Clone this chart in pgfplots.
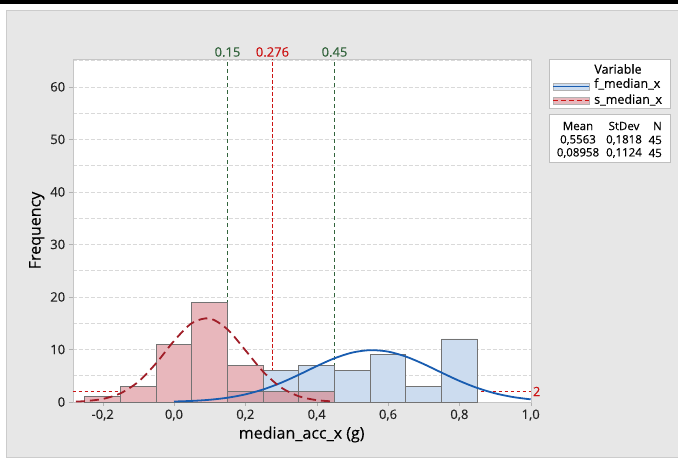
\documentclass[border=0pt]{standalone}
\usepackage{pgfplots}
\pgfplotsset{compat=1.18}
\usepackage{fontspec}
\setmainfont{Open Sans}[FakeBold=0.25]
\definecolor{bluefill}{RGB}{204,220,239}
\definecolor{redfill}{RGB}{232,183,188}
\definecolor{overfill}{RGB}{212,164,174}
\definecolor{edge}{RGB}{115,115,115}
\definecolor{bluecurve}{RGB}{24,92,176}
\definecolor{redcurve}{RGB}{160,30,40}
\definecolor{refred}{RGB}{204,20,20}
\definecolor{refgreen}{RGB}{50,100,60}
\definecolor{panel}{RGB}{231,231,231}
\definecolor{txt}{RGB}{35,35,35}
\begin{document}
\begin{tikzpicture}[x=1pt,y=1pt]
\useasboundingbox (0,0) rectangle (678,462);
\fill[white] (0,0) rectangle (678,462);
\fill[black] (0,458) rectangle (678,462);
\draw[fill=panel,draw=gray!40] (6,5) rectangle (678,452);
\begin{axis}[
  at={(72.7pt,60pt)}, anchor=south west,
  scale only axis, width=458pt, height=343pt,
  xmin=-0.284, xmax=1.0, ymin=0, ymax=65.3,
  axis background/.style={fill=white},
  axis line style={gray!45},
  clip=false,
  xtick={-0.2,0,0.2,0.4,0.6,0.8,1.0},
  xticklabels={{-0,2},{0,0},{0,2},{0,4},{0,6},{0,8},{1,0}},
  ytick={0,10,20,30,40,50,60},
  minor ytick={5,15,25,35,45,55,65},
  ymajorgrids, yminorgrids,
  major grid style={gray!30, dash pattern=on 4pt off 2pt, line width=0.5pt},
  minor grid style={gray!30, dash pattern=on 4pt off 2pt, line width=0.5pt},
  tick align=outside, xtick pos=bottom, ytick pos=left,
  major tick length=4pt, minor tick length=0pt,
  tick style={gray!60},
  /pgf/number format/assume math mode=true,
  ticklabel style={font=\fontsize{13}{15}\selectfont, text=txt},
  xlabel={median\_acc\_x (g)}, ylabel={Frequency},
  label style={font=\fontsize{16}{18}\selectfont, text=black},
  xlabel style={yshift=1pt},
  ylabel style={yshift=-1pt},
]
% reference lines
\addplot[refred, line width=1.6pt, dash pattern=on 3.5pt off 2.5pt] coordinates {(-0.284,2)(1.0,2)};
\addplot[refgreen, line width=0.8pt, dash pattern=on 4pt off 3pt] coordinates {(0.15,0)(0.15,65.3)};
\addplot[refgreen, line width=0.8pt, dash pattern=on 4pt off 3pt] coordinates {(0.45,0)(0.45,65.3)};
\addplot[refred, line width=1.6pt, dash pattern=on 3.5pt off 2.5pt] coordinates {(0.276,0)(0.276,65.3)};
% blue histogram f_median_x
\addplot[ybar, bar width=0.1, bar shift=0pt, fill=bluefill, draw=edge, line width=0.8pt] coordinates {
(0.2,2)(0.3,6)(0.4,7)(0.5,6)(0.6,9)(0.7,3)(0.8,12)};
% red histogram s_median_x
\addplot[ybar, bar width=0.1, bar shift=0pt, fill=redfill, draw=edge, line width=0.8pt] coordinates {
(-0.2,1)(-0.1,3)(0.0,11)(0.1,19)(0.2,7)(0.3,2)(0.4,2)};
% overlap
\addplot[ybar, bar width=0.1, bar shift=0pt, fill=overfill, draw=edge, line width=0.8pt] coordinates {
(0.2,2)(0.3,2)(0.4,2)};
% fitted curves
\addplot[bluecurve, line width=1.8pt, smooth] coordinates {
(0,0.091)(0.05,0.204)(0.1,0.423)(0.15,0.813)(0.2,1.447)(0.25,2.388)(0.3,3.655)(0.35,5.187)(0.4,6.824)(0.45,8.323)(0.5,9.412)(0.55,9.869)(0.6,9.594)(0.65,8.647)(0.7,7.226)(0.75,5.598)(0.8,4.021)(0.85,2.678)(0.9,1.653)(0.95,0.947)(1.0,0.503)};
\addplot[redcurve, line width=1.8pt, smooth, dash pattern=on 9pt off 5pt] coordinates {
(-0.275,0.083)(-0.25,0.167)(-0.2,0.578)(-0.15,1.648)(-0.1,3.852)(-0.05,7.388)(0,11.627)(0.05,15.014)(0.1,15.905)(0.15,13.825)(0.2,9.859)(0.25,5.769)(0.3,2.769)(0.35,1.091)(0.4,0.353)(0.45,0.094)};
% labels
\node[above, text=refgreen, font=\fontsize{13}{15}\selectfont, inner sep=2pt] at (axis cs:0.15,65.3) {0.15};
\node[above, text=refred, font=\fontsize{13}{15}\selectfont, inner sep=2pt] at (axis cs:0.276,65.3) {0.276};
\node[above, text=refgreen, font=\fontsize{13}{15}\selectfont, inner sep=2pt] at (axis cs:0.45,65.3) {0.45};
\node[right, text=refred, font=\fontsize{13}{15}\selectfont, inner sep=2pt] at (axis cs:1.0,2) {2};
\end{axis}
% legend
\draw[fill=white, draw=gray!50] (549,354) rectangle (670,403);
\node[font=\fontsize{12.5}{14}\selectfont] at (618,393) {Variable};
\draw[fill=bluefill, draw=gray!60, line width=0.4pt] (553,372) rectangle (589,379);
\draw[bluecurve, line width=1.5pt] (553,375.5) -- (589,375.5);
\node[anchor=west, font=\fontsize{12.5}{14}\selectfont, inner sep=0pt] at (594,378) {f\_median\_x};
\draw[fill=redfill, draw=gray!60, line width=0.4pt] (553,358) rectangle (589,365);
\draw[refred, line width=1.5pt, dash pattern=on 5pt off 3pt] (553,361.5) -- (589,361.5);
\node[anchor=west, font=\fontsize{12.5}{14}\selectfont, inner sep=0pt] at (594,362) {s\_median\_x};
\draw[fill=white, draw=gray!50] (549,300) rectangle (670,348);
\begin{scope}[every node/.style={font=\fontsize{11.5}{13}\selectfont, inner sep=0pt}]
\node at (578,336) {Mean};
\node at (624,336) {StDev};
\node[anchor=east] at (662,336) {N};
\node at (578,322) {0,5563};
\node at (624,322) {0,1818};
\node[anchor=east] at (662,322) {45};
\node at (578,309) {0,08958};
\node at (624,309) {0,1124};
\node[anchor=east] at (662,309) {45};
\end{scope}
\end{tikzpicture}
\end{document}
